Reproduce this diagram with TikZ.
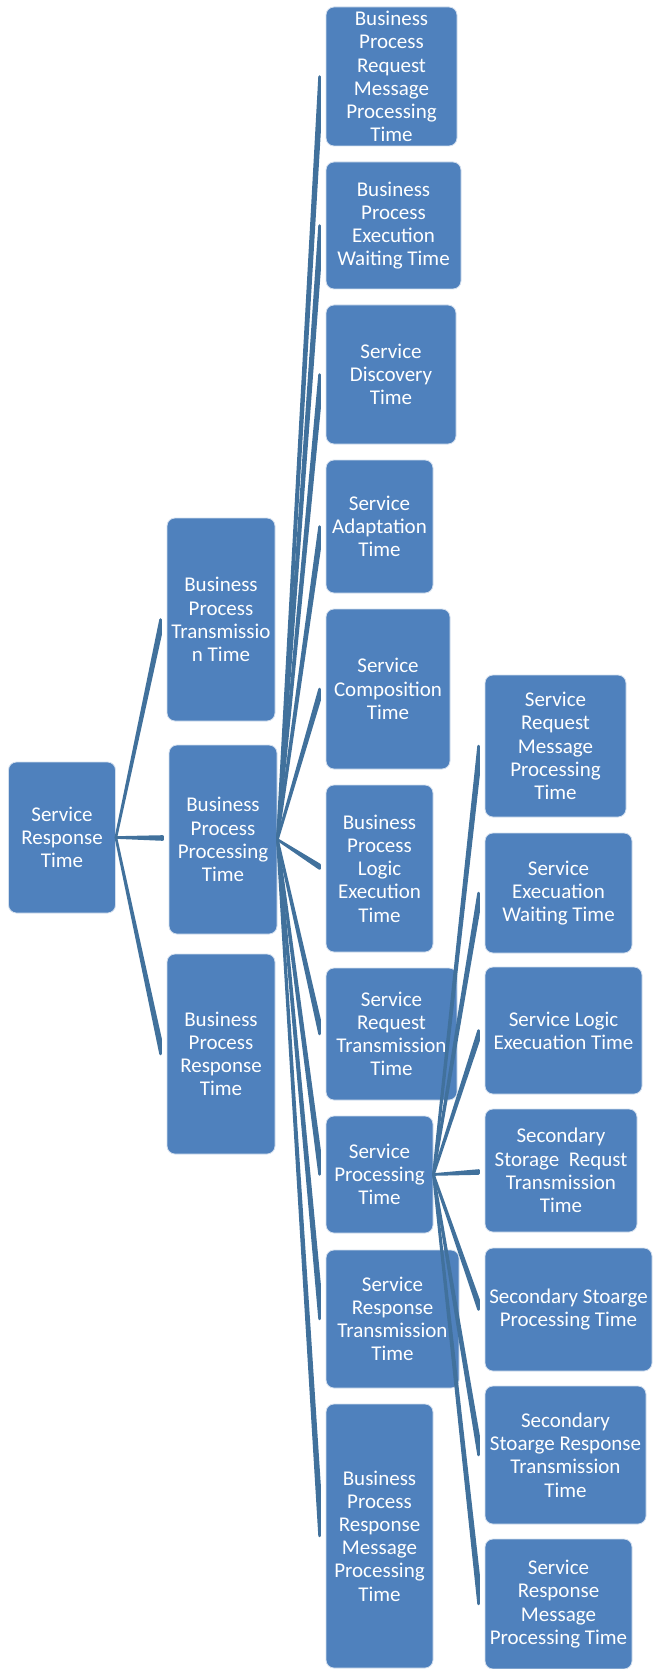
\documentclass[tikz,border=0pt]{standalone}
\usepackage{fontspec}
\setmainfont{Carlito}
\usetikzlibrary{positioning,calc}
\definecolor{boxblue}{HTML}{4F81BD}
\definecolor{linkblue}{HTML}{41719C}
\tikzset{font=\fontsize{21}{23.2}\selectfont}
\tikzset{
	box/.style={rectangle, rounded corners=8pt, fill=boxblue, draw=white!75!boxblue, line width=0.8pt, text=white, align=center, inner sep=0pt},
	link/.style={fill=linkblue, draw=linkblue, line width=2.6pt, line join=round}
}

\begin{document}
\begin{tikzpicture}[x=1pt, y=-1pt]
	\useasboundingbox (0,0) rectangle (655,1669);

	% root and first level
	\node[box, minimum width=107, minimum height=151] (srt) at (62, 837.5) {Service\\Response\\Time};
	\node[box, minimum width=108, minimum height=203] (bptt) at (221, 619.5) {Business\\Process\\Transmissio\\n Time};
	\node[box, minimum width=108, minimum height=189] (bppt) at (223, 839.5) {Business\\Process\\Processing\\Time};
	\node[box, minimum width=108, minimum height=200] (bprt) at (221, 1054) {Business\\Process\\Response\\Time};

	% second level
	\node[box, minimum width=131, minimum height=139] (bprmpt) at (391.5, 76.5) {Business\\Process\\Request\\Message\\Processing\\Time};
	\node[box, minimum width=135, minimum height=127] (bpewt) at (393.5, 225.5) {Business\\Process\\Execution\\Waiting Time};
	\node[box, minimum width=130, minimum height=139] (sdt) at (391, 374.5) {Service\\Discovery\\Time};
	\node[box, minimum width=107, minimum height=133] (sat) at (379.5, 526.5) {Service\\Adaptation\\Time};
	\node[box, minimum width=124, minimum height=160] (sct) at (388, 689) {Service\\Composition\\Time};
	\node[box, minimum width=107, minimum height=167] (bplet) at (379.5, 868.5) {Business\\Process\\Logic\\Execution\\Time};
	\node[box, minimum width=131, minimum height=132] (srqtt) at (391.5, 1034) {Service\\Request\\Transmission\\Time};
	\node[box, minimum width=107, minimum height=117] (spt) at (379.5, 1174.5) {Service\\Processing\\Time};
	\node[box, minimum width=133, minimum height=138] (srstt) at (392.5, 1319) {Service\\Response\\Transmission\\Time};
	\node[box, minimum width=107, minimum height=264] (bprsmpt) at (379.5, 1536) {Business\\Process\\Response\\Message\\Processing\\Time};

	% third level
	\node[box, minimum width=141, minimum height=142] (srqmpt) at (555.5, 746) {Service\\Request\\Message\\Processing\\Time};
	\node[box, minimum width=147, minimum height=120] (sewt) at (558.5, 893) {Service\\Execuation\\Waiting Time};
	\node[box, minimum width=157, minimum height=127] (slet) at (563.5, 1030.5) {Service Logic\\Execuation Time};
	\node[box, minimum width=152, minimum height=123] (ssrqtt) at (561, 1170.5) {Secondary\\Storage~~Requst\\Transmission\\Time};
	\node[box, minimum width=167, minimum height=123] (sspt) at (568.5, 1309.5) {Secondary Stoarge\\Processing Time};
	\node[box, minimum width=161, minimum height=138] (ssrstt) at (565.5, 1455) {Secondary\\Stoarge Response\\Transmission\\Time};
	\node[box, minimum width=147, minimum height=130] (srsmpt) at (558.5, 1604) {Service\\Response\\Message\\Processing Time};

	% tapered connectors
	\foreach \src/\dst in {srt/bptt, srt/bppt, srt/bprt,
		bppt/bprmpt, bppt/bpewt, bppt/sdt, bppt/sat, bppt/sct, bppt/bplet, bppt/srqtt, bppt/spt, bppt/srstt, bppt/bprsmpt,
		spt/srqmpt, spt/sewt, spt/slet, spt/ssrqtt, spt/sspt, spt/ssrstt, spt/srsmpt}
		\filldraw[link] let \p1=(\src.east), \p2=($(\dst.west)+(-6,0)$),
			\n1={veclen(\x2-\x1,\y2-\y1)},
			\n2={ifthenelse(\y1<\y2,-1,1)*3*\n1/(\x2-\x1)}
		in (\x1,\y1) -- (\x2,\y2) -- (\x2,\y2+\n2) -- cycle;
\end{tikzpicture}
\end{document}
